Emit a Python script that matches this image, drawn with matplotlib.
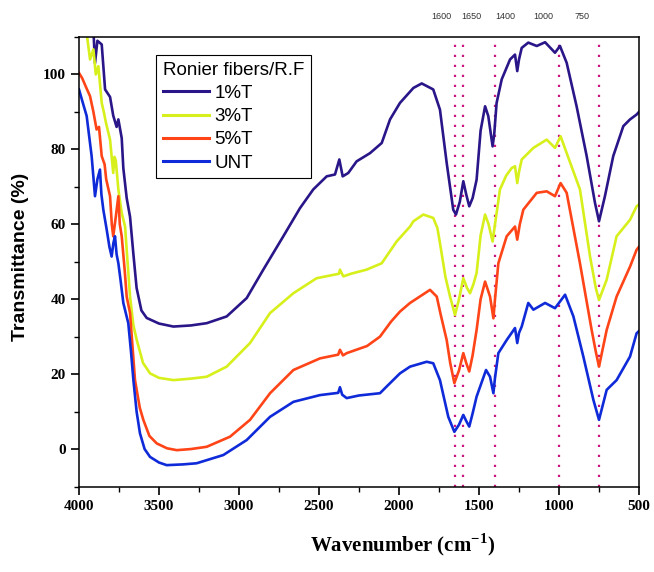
import numpy as np
import matplotlib as mpl
mpl.use('Agg')
import matplotlib.pyplot as plt
from matplotlib.ticker import MultipleLocator
import matplotlib.transforms as mtransforms

# data (wavenumber, transmittance %)
wn_1T = [3990, 3930, 3910, 3900, 3885, 3858, 3837, 3806, 3786, 3765, 3754, 3733, 3723, 3702, 3681, 3660, 3640,
         3610, 3577, 3500, 3410, 3300, 3202, 3077, 2952, 2848, 2723, 2619, 2536, 2452, 2400, 2373, 2352, 2317,
         2265, 2181, 2108, 2056, 1994, 1910, 1858, 1786, 1744, 1702, 1661, 1644, 1620, 1598, 1580, 1561, 1540,
         1515, 1490, 1462, 1442, 1415, 1405, 1390, 1358, 1306, 1275, 1261, 1250, 1233, 1192, 1139, 1087, 1025,
         994, 952, 890, 827, 775, 750, 713, 661, 598, 556, 515, 500]
t_1T = [113, 111, 112, 103, 109, 108, 96, 94, 89, 86, 88, 83, 75, 67, 62, 52, 43,
        37, 35, 33.5, 32.7, 33, 33.6, 35.4, 40.3, 47.9, 56.8, 64.3, 69.3, 72.8, 73.3, 77.3, 72.8, 73.7,
        76.8, 79, 81.7, 88, 92.4, 96.4, 97.6, 96, 90.6, 76.4, 63.9, 62.6, 66, 71.5, 68, 64.8, 67,
        71.9, 85, 91.5, 88.9, 80.8, 84, 92.4, 98.7, 104, 105.3, 100.9, 104, 107.1, 108.5, 107.6, 108.6, 105.8,
        107.6, 103.1, 91.5, 78.2, 65.7, 60.8, 67.5, 78.2, 86.2, 88, 89.3, 90]

wn_3T = [4000, 3960, 3952, 3931, 3910, 3895, 3879, 3858, 3845, 3831, 3806, 3786, 3778, 3770, 3754, 3733, 3712,
         3700, 3681, 3660, 3639, 3600, 3556, 3500, 3410, 3300, 3202, 3077, 2931, 2806, 2660, 2515, 2410, 2375,
         2369, 2348, 2300, 2202, 2108, 2015, 1931, 1910, 1848, 1786, 1760, 1744, 1710, 1681, 1650, 1625, 1598,
         1575, 1556, 1535, 1515, 1490, 1462, 1440, 1415, 1400, 1369, 1330, 1296, 1275, 1261, 1250, 1233, 1160,
         1077, 1025, 990, 952, 869, 806, 770, 750, 702, 640, 556, 515, 500]
t_3T = [118, 113, 111, 104, 106.7, 100, 102.2, 92.4, 90, 87, 82.6, 73.7, 78, 77, 69.3, 63, 59.4,
        52, 40.7, 33, 29.1, 23, 20.2, 19, 18.4, 18.8, 19.3, 22, 28.3, 36.3, 41.6, 45.6, 46.5, 46.8,
        47.9, 46.1, 46.8, 47.9, 49.6, 55.4, 59.4, 60.8, 62.6, 61.7, 59, 55, 46, 40.7, 35.8, 40, 45.6,
        43, 41.6, 44, 47, 57, 62.6, 60, 55.4, 60, 69.3, 73, 75, 75.5, 71, 74, 77.3, 80.4,
        82.6, 80.4, 83.5, 79, 69.3, 51.4, 43, 39.8, 45.2, 56.8, 61.2, 64.8, 65.3]

wn_5T = [4000, 3980, 3960, 3931, 3910, 3890, 3875, 3858, 3840, 3830, 3806, 3795, 3786, 3770, 3754, 3745, 3733,
         3715, 3702, 3681, 3665, 3650, 3620, 3598, 3560, 3514, 3450, 3389, 3300, 3202, 3056, 2931, 2806, 2660,
         2494, 2380, 2369, 2350, 2327, 2200, 2119, 2050, 1994, 1931, 1806, 1764, 1740, 1702, 1680, 1654, 1625,
         1598, 1580, 1561, 1540, 1515, 1490, 1462, 1431, 1410, 1400, 1379, 1327, 1275, 1261, 1245, 1223, 1139,
         1077, 1025, 990, 952, 869, 796, 770, 750, 702, 640, 556, 515, 500]
t_5T = [100.4, 99, 97, 94.2, 90, 85.3, 86, 78.2, 76, 72, 67.5, 60, 56.8, 62, 67.5, 60, 56.8,
        48, 40.7, 36.3, 27, 18.4, 11, 7.8, 3.5, 1.5, 0.2, -0.3, 0, 0.6, 3.3, 7.8, 14.9, 21.1,
        24.2, 25.2, 26.5, 25, 25.6, 27.5, 30, 34, 36.7, 39, 42.5, 40.7, 36, 29.1, 23, 17.6, 21,
        25.6, 23, 20.7, 25, 31.8, 40, 44.7, 40.7, 34.9, 40, 49.6, 56.8, 59.4, 55.9, 60, 63.9, 68.4,
        68.8, 67.5, 71, 68.4, 49.6, 31.8, 26, 22, 31.8, 40.7, 48.7, 53.2, 54]

wn_unt = [4000, 3980, 3952, 3935, 3921, 3900, 3885, 3869, 3860, 3848, 3827, 3810, 3796, 3785, 3775, 3765, 3754,
          3740, 3723, 3692, 3675, 3660, 3640, 3619, 3590, 3556, 3500, 3452, 3350, 3265, 3098, 2952, 2806, 2660,
          2494, 2380, 2369, 2355, 2327, 2250, 2119, 2077, 1994, 1931, 1827, 1786, 1744, 1692, 1654, 1625, 1598,
          1580, 1561, 1540, 1515, 1456, 1431, 1410, 1400, 1379, 1327, 1275, 1261, 1250, 1233, 1192, 1160, 1087,
          1025, 962, 910, 848, 785, 750, 702, 640, 556, 515, 500]
t_unt = [96, 93, 88.9, 83, 78.2, 67.5, 72, 74.6, 68, 63.9, 58.6, 54, 51.4, 55, 56.8, 52, 49.6,
         45, 39, 33.6, 26, 18.4, 10, 4.2, 0, -2.1, -3.6, -4.3, -4.1, -3.8, -1.6, 2.4, 8.6, 12.6,
         14.4, 15, 16.5, 14.5, 13.6, 14.3, 14.9, 16.7, 20.2, 22, 23.3, 22.9, 18.4, 8.6, 4.6, 6.5, 9.1,
         7.5, 6, 9.5, 14, 21.1, 19.3, 14.9, 19, 25.6, 29.1, 32.3, 28.3, 31, 32.7, 39, 37.2, 39,
         37.6, 41.2, 35.4, 24.7, 13.1, 7.8, 15.8, 18.4, 24.7, 30.9, 31.5]

labels = ['1%T', '3%T', '5%T', 'UNT']
colors = ['#2A1688', '#D7F01C', '#FF4417', '#0F2AD8']

# marked bands and the little labels on top (labels sit a bit left of the lines)
band_lines = [1650, 1600, 1400, 1000, 750]
band_text = ['1600', '1650', '1400', '1000', '750']
band_text_x = [1733, 1546, 1337, 1100, 858]

plt.rcParams['mathtext.fontset'] = 'custom'
plt.rcParams['mathtext.rm'] = 'Liberation Serif:bold'
plt.rcParams['mathtext.bf'] = 'Liberation Serif:bold'

fig = plt.figure(figsize=(6.54, 5.72), dpi=100)
ax = fig.add_axes([79/654, 1-486.5/572, 560/654, 449.5/572])

series = [(wn_1T, t_1T), (wn_3T, t_3T), (wn_5T, t_5T), (wn_unt, t_unt)]
for (w, t), lab, c in zip(series, labels, colors):
    ax.plot(w, t, color=c, lw=1.9, label=lab, solid_joinstyle='round')

for b in band_lines:
    ax.axvline(b, color='#C8157F', lw=1.6, ls=(0, (1, 3.5)), zorder=1)

trans = mtransforms.blended_transform_factory(ax.transData, ax.transAxes)
for txt, xx in zip(band_text, band_text_x):
    ax.text(xx, 1.045, txt, transform=trans, ha='center', va='center', fontsize=6.5,
            family='Liberation Sans', color='#333333')

ax.set_xlim(4000, 500)
ax.set_ylim(-10, 110)
ax.xaxis.set_major_locator(MultipleLocator(500))
ax.xaxis.set_minor_locator(MultipleLocator(250))
ax.yaxis.set_major_locator(MultipleLocator(20))
ax.yaxis.set_minor_locator(MultipleLocator(10))
ax.tick_params(which='major', direction='out', length=6, width=1.2, top=False, right=False)
ax.tick_params(which='minor', direction='out', length=3.5, width=1.0, top=False, right=False)
for lbl in ax.get_xticklabels() + ax.get_yticklabels():
    lbl.set_family('Liberation Serif')
    lbl.set_fontweight('bold')
    lbl.set_fontsize(11)
for s in ax.spines.values():
    s.set_linewidth(1.1)

ax.set_xlabel('Wavenumber (cm$^{-1}$)', family='Liberation Serif', fontweight='bold', fontsize=15)
ax.xaxis.label.set_va('center')
ax.xaxis.set_label_coords(0.577, -0.13)
ax.set_ylabel('Transmittance (%)', family='Liberation Sans', fontweight='bold', fontsize=14)
ax.yaxis.label.set_va('center')
ax.yaxis.set_label_coords(-0.105, 0.51)

leg = ax.legend(loc='upper left', bbox_to_anchor=(0.1375, 0.96), borderaxespad=0,
                title='Ronier fibers/R.F', alignment='left', fancybox=False, edgecolor='black',
                framealpha=1, prop={'family': 'Liberation Sans', 'size': 13.5},
                handlelength=2.5, handletextpad=0.25, labelspacing=0.33, borderpad=0.35)
leg.get_title().set_family('Liberation Sans')
leg.get_title().set_fontsize(13.5)
leg.get_frame().set_linewidth(0.8)
for h in leg.get_lines():
    h.set_linewidth(2.2)

plt.savefig('out.png', dpi=100)
